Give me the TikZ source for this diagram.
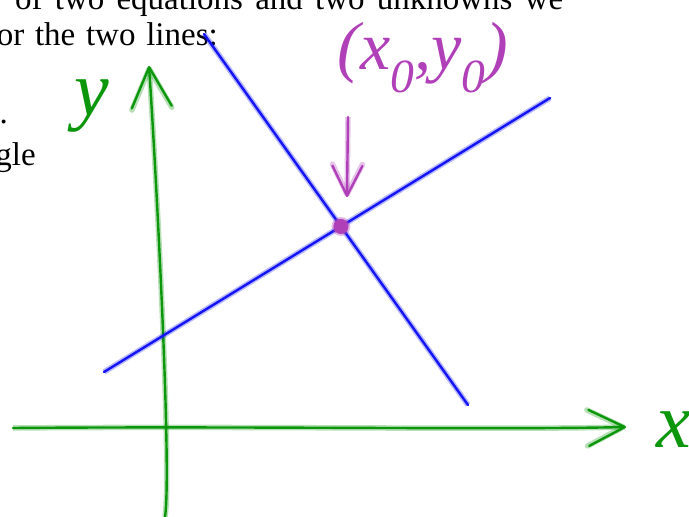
\documentclass[tikz,border=0pt]{standalone}
\usepackage{fontspec}
\setmainfont{Liberation Serif}
\usetikzlibrary{arrows.meta,intersections}

\definecolor{penGreen}{RGB}{12,150,12}
\definecolor{penBlue}{RGB}{20,20,245}
\definecolor{penPurple}{RGB}{176,64,184}

\begin{document}
\begin{tikzpicture}[
    x=1pt, y=-1pt,
    ink/.style={draw=#1, line width=2.4pt, line cap=round, line join=round,
        preaction={draw=#1, line width=5.5pt, opacity=.3}},
    pagetext/.style={inner sep=0pt, font=\fontsize{33}{38}\selectfont},
    scrawl/.style={inner sep=0pt, text=#1, font=\fontsize{78}{78}\selectfont\itshape},
    barb/.style={-{Straight Barb[round, length=#1, width=#1]}}
]
    \useasboundingbox (0,0) rectangle (689,517);
    \clip (0,0) rectangle (689,517);

    % scanned page text
    \node[pagetext, anchor=base west] (line1) at (15,9) {\makebox[548pt][s]{of two equations and two unknowns we}};
    \node[pagetext, anchor=base east] (line2) at (218,45) {\makebox[232pt][s]{for the two lines:}};
    \node[pagetext, anchor=base east] (line3) at (8,123) {.};
    \node[pagetext, anchor=base east] (line4) at (36,165) {gle};

    % axes
    \coordinate (yfoot) at (165,517);
    \coordinate (ytip) at (149,66);
    \coordinate (xfoot) at (13,428);
    \coordinate (xtip) at (626,427);
    \draw[ink=penGreen, barb=40pt] (yfoot) .. controls (172,470) and (156,170) .. (ytip);
    \draw[ink=penGreen, barb=36pt] (xfoot) .. controls (240,426) and (500,430) .. (xtip);
    \node[scrawl=penGreen] (ylabel) at (92,106) {y};
    \node[scrawl=penGreen] (xlabel) at (674,430) {x};

    % the two lines
    \coordinate (a1) at (204,34);
    \coordinate (a2) at (468,405);
    \coordinate (b1) at (104,372);
    \coordinate (b2) at (550,98);
    \draw[ink=penBlue, name path=lineA] (a1) -- (a2);
    \draw[ink=penBlue, name path=lineB] (b1) -- (b2);
    \path[name intersections={of=lineA and lineB, by=p0}];

    % intersection point
    \fill[penPurple, preaction={fill=penPurple, opacity=.35, draw=penPurple, line width=4pt}] (p0) circle (7.5pt);
    \node[scrawl=penPurple, font=\fontsize{68}{68}\selectfont\itshape] (plabel) at (423,58) {(x\textsubscript{0},y\textsubscript{0})};
    \coordinate (ptail) at (348,117);
    \coordinate (phead) at (347,197);
    \draw[ink=penPurple, barb=30pt] (ptail) -- (phead);
\end{tikzpicture}
\end{document}
